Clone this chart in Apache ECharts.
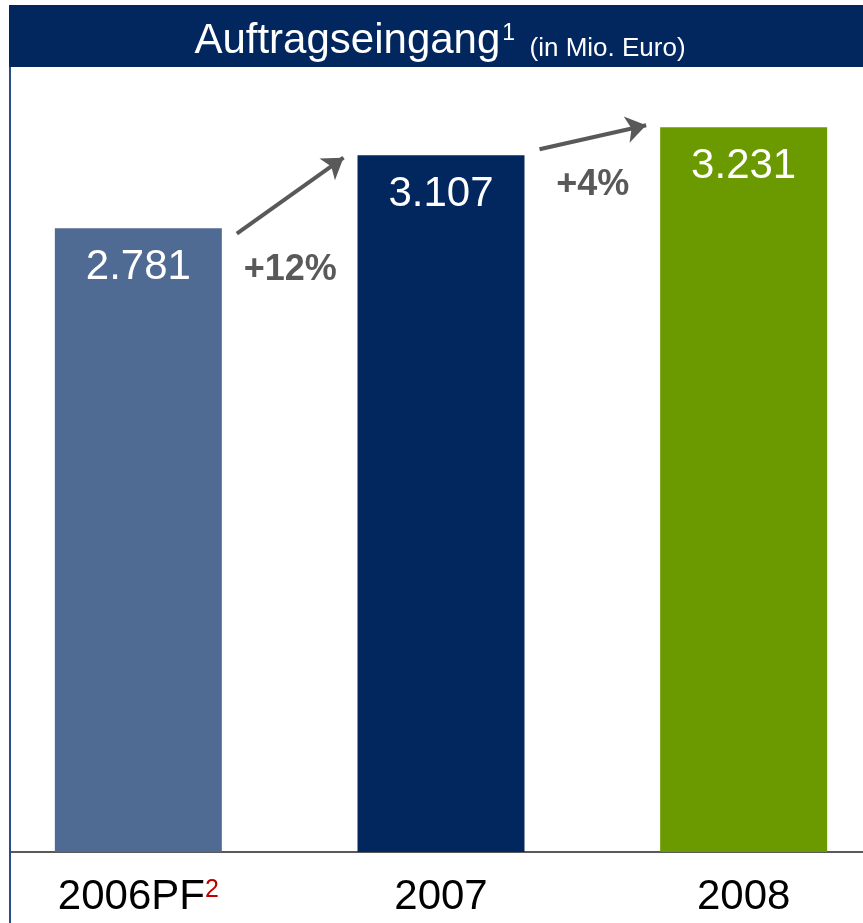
<!DOCTYPE html>
<html>
<head>
<meta charset="utf-8">
<script src="https://cdn.jsdelivr.net/npm/echarts@6/dist/echarts.min.js"></script>
<style>
  html, body { margin: 0; padding: 0; background: #fff; }
  #chart { width: 863px; height: 923px; }
</style>
</head>
<body>
<div id="chart"></div>
<script>
// data
const categories = ['2006PF', '2007', '2008']
const categoryNotes = ['2', '', '']
const values = [2781, 3107, 3231]
const growthLabels = ['+12%', '+4%']
const yMax = 3500

const barColors = ['#506b93', '#02275f', '#6a9900']
const FONT = "'Liberation Sans', Arial, sans-serif"
const BAR_W = 167
const arrowRise = [76, 24]
const arrowShift = [4, -4]

const chart = echarts.init(document.getElementById('chart'))

function fmt(v) {
  return String(v).replace(/\B(?=(\d{3})+(?!\d))/g, '.')
}

function baseGraphic() {
  return [
    { type: 'rect', id: 'hdr', shape: { x: 9, y: 5, width: 854, height: 62 }, style: { fill: '#02275f' }, z: 10 },
    { type: 'rect', id: 'mask', shape: { x: 0, y: 840, width: 9, height: 30 }, style: { fill: '#fff' }, z: 10 },
    { type: 'line', id: 'lb', shape: { x1: 10, y1: 67, x2: 10, y2: 923 }, style: { stroke: '#2b4c8c', lineWidth: 2 }, z: 11 },
    {
      type: 'text', id: 'ttl', x: 440, y: 39, z: 12,
      style: {
        text: '{a|Auftragseingang}{s|1}{b|  (in Mio. Euro)}',
        align: 'center', verticalAlign: 'middle',
        rich: {
          a: { fontSize: 42, fontFamily: FONT, fill: '#fff', lineHeight: 46, verticalAlign: 'bottom' },
          s: { fontSize: 23, fontFamily: FONT, fill: '#fff', lineHeight: 24, verticalAlign: 'top', padding: [6, 0, 0, 2] },
          b: { fontSize: 26, fontFamily: FONT, fill: '#fff', lineHeight: 38, verticalAlign: 'bottom' }
        }
      }
    }
  ]
}

const option = {
  animation: false,
  backgroundColor: '#fff',
  grid: { left: -13, right: -32, top: 67, bottom: 71, outerBoundsMode: 'none', containLabel: false },
  xAxis: {
    type: 'category',
    data: categories,
    axisTick: { show: false },
    axisLine: { lineStyle: { color: '#595959', width: 2 } },
    axisLabel: {
      margin: 18,
      formatter: (v, i) => '{a|' + v + '}' + (categoryNotes[i] ? '{sup|' + categoryNotes[i] + '}' : ''),
      rich: {
        a: { fontSize: 42, fontFamily: FONT, color: '#000', lineHeight: 48, verticalAlign: 'bottom' },
        sup: { fontSize: 25, fontFamily: FONT, color: '#c00000', lineHeight: 26, verticalAlign: 'top', padding: [8, 0, 0, 0] }
      }
    }
  },
  yAxis: { type: 'value', min: 0, max: yMax, show: false, splitLine: { show: false } },
  series: [{
    type: 'bar',
    barWidth: BAR_W,
    data: values.map((v, i) => ({ value: v, itemStyle: { color: barColors[i] } })),
    label: {
      show: true, position: 'insideTop', distance: 18,
      color: '#fff', fontSize: 42, fontFamily: FONT,
      formatter: p => fmt(p.value)
    }
  }],
  graphic: baseGraphic()
}

chart.setOption(option)

// growth arrows between neighbouring bars
const tops = values.map((v, i) => chart.convertToPixel({ seriesIndex: 0 }, [i, v]))
const lines = []
const extra = []
for (let i = 0; i < values.length - 1; i++) {
  const x1 = tops[i][0] + BAR_W / 2 + 15
  const x2 = tops[i + 1][0] - BAR_W / 2 - 14
  const midY = (tops[i][1] + tops[i + 1][1]) / 2 + arrowShift[i]
  const y1 = midY + arrowRise[i] / 2
  const y2 = midY - arrowRise[i] / 2
  lines.push([{ x: x1, y: y1 }, { x: x2, y: y2 }])
  extra.push({
    type: 'text', x: (x1 + x2) / 2, y: y1 + 36, z: 12,
    style: { text: growthLabels[i], fontSize: 36, fontWeight: 'bold', fontFamily: FONT, fill: '#595959', align: 'center', verticalAlign: 'middle' }
  })
}

chart.setOption({
  series: [{
    markLine: {
      silent: true,
      symbol: ['none', 'arrow'],
      symbolSize: 20,
      label: { show: false },
      lineStyle: { color: '#595959', width: 4, type: 'solid' },
      data: lines
    }
  }],
  graphic: baseGraphic().concat(extra)
})
</script>
</body>
</html>
